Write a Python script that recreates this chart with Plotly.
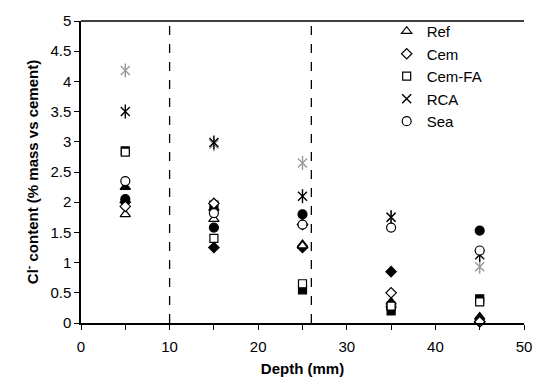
import plotly.graph_objects as go

depth = [5, 15, 25, 35, 45]

# open markers (legend series)
ref_open = [1.80, 1.72, 1.28, 0.30, 0.05]
cem_open = [1.93, 1.98, 1.63, 0.50, 0.02]
cemfa_open = [2.83, 1.40, 0.65, 0.28, 0.35]
rca_open = [3.50, 2.99, 2.10, 1.75, 1.13]
sea_open = [2.35, 1.82, 1.63, 1.58, 1.20]

# filled markers (second set, not in legend)
ref_fill = [2.25, 1.90, 1.30, 0.35, 0.10]
cem_fill = [2.00, 1.25, 1.25, 0.85, 0.02]
cemfa_fill = [2.85, 1.95, 0.55, 0.20, 0.40]
rca_fill = [4.18, 2.96, 2.65, 1.75, 0.93]
sea_fill = [2.05, 1.58, 1.80, 0.25, 1.53]

boundaries = [10, 26]
x_ticks = [0, 10, 20, 30, 40, 50]
y_ticks = [0, 0.5, 1, 1.5, 2, 2.5, 3, 3.5, 4, 4.5, 5]

FONT = "Liberation Sans, Arial, sans-serif"
GRAY = "#9a9a9a"
fig = go.Figure()

def add(y, symbol, name, color="black", fill="white", size=9, legend=False, lw=1.2):
    fig.add_trace(go.Scatter(
        x=depth, y=y, mode="markers", name=name, showlegend=legend,
        marker=dict(symbol=symbol, size=size, color=fill,
                    line=dict(color=color, width=lw)),
        cliponaxis=False,
    ))

# filled set
add(ref_fill, "triangle-up", "Ref f", fill="black")
add(cem_fill, "diamond", "Cem f", fill="black", size=8)
add(cemfa_fill, "square", "Cem-FA f", fill="black", size=8)
add(sea_fill, "circle", "Sea f", fill="black")
add(rca_fill, "x-thin-open", "RCA f", color=GRAY, fill=GRAY, lw=1.4)
add(rca_fill, "line-ns-open", "RCA f2", color=GRAY, fill=GRAY, size=10, lw=1.4)

# open set
add(ref_open, "triangle-up", "Ref", legend=True)
add(cem_open, "diamond", "Cem", size=8, legend=True)
add(cemfa_open, "square", "Cem-FA", size=8, legend=True)
add(rca_open, "x-thin-open", "RCA", fill="black", legend=True, lw=1.4)
add(rca_open, "line-ns-open", "RCA2", fill="black", size=10, lw=1.4)
add(sea_open, "circle", "Sea", legend=True)

for b in boundaries:
    fig.add_shape(type="line", x0=b, x1=b, y0=0, y1=1, xref="x", yref="paper",
                  line=dict(color="black", width=1.3, dash="dash"))

fig.update_layout(
    width=544, height=387,
    margin=dict(l=81, r=13, t=17, b=63),
    paper_bgcolor="white", plot_bgcolor="white",
    font=dict(family=FONT, size=15, color="black"),
    legend=dict(x=0.69, y=1.02, xanchor="left", yanchor="top",
                bgcolor="rgba(0,0,0,0)", font=dict(size=15),
                tracegroupgap=0, itemwidth=30),
    xaxis=dict(range=[0, 50], tickvals=x_ticks, ticks="outside", ticklen=5,
               tickcolor="black", showline=True, linecolor="black", linewidth=1.5,
               mirror=False, showgrid=False, zeroline=False, ticklabelstandoff=4,
               minor=dict(tickvals=[5, 15, 25, 35, 45], ticks="outside", ticklen=5,
                          tickcolor="black"),
               title=dict(text="<b>Depth (mm)</b>", font=dict(size=15), standoff=10)),
    yaxis=dict(range=[0, 5], tickvals=y_ticks, ticktext=[f"{v:g}" for v in y_ticks],
               ticks="outside", ticklen=5, tickcolor="black",
               showline=True, linecolor="black", linewidth=1.5,
               mirror=False, showgrid=False, zeroline=False,
               title=dict(text="<b>Cl<sup>-</sup> content (% mass vs cement)</b>",
                          font=dict(size=15), standoff=8)),
)
fig.add_shape(type="line", x0=0, x1=1, y0=1, y1=1, xref="paper", yref="paper",
              line=dict(color="black", width=1.3))

fig.write_html("out.html")
